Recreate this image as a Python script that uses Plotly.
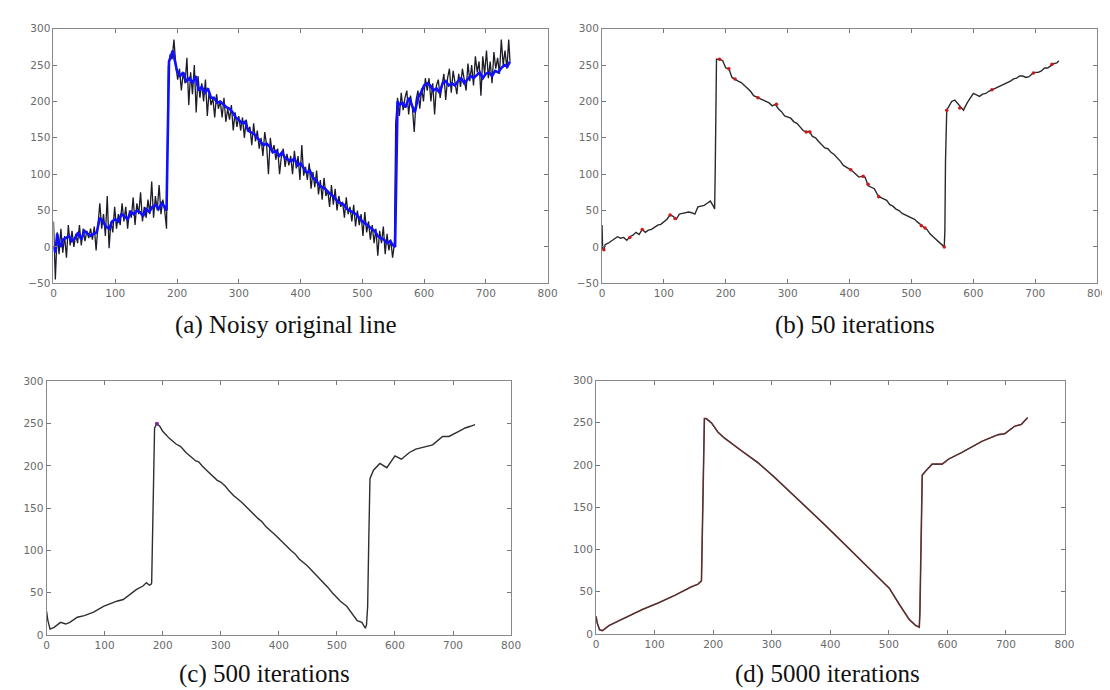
import plotly.graph_objects as go

# ---------------- data ----------------
# (a) noisy original line (black) and overlaid blue line
noisy_x = (list(range(0, 184, 3)) + list(range(186, 553, 3)) + [554]
           + list(range(557, 738, 3)) + [739])
noisy_y = [35, -45, 20, -10, 25, -8, 15, -15, 30, 2, 22, 0, 18, 5, 30, 2, 25, 8, 22, 12,
           25, 10, 28, -5, 30, 60, 25, 45, 15, 70, -2, 35, 20, 55, 25, 45, 30, 60, 35, 55,
           25, 50, 40, 68, 30, 60, 45, 75, 35, 55, 40, 65, 45, 90, 40, 70, 50, 85, 45, 65,
           50, 25,
           248, 265, 258, 285, 250, 230, 245, 215, 240, 225,
           260, 195, 240, 210, 250, 185, 235, 205, 225, 200,
           230, 180, 215, 195, 205, 178, 210, 190, 200, 178,
           205, 172, 190, 175, 195, 160, 185, 165, 180, 160,
           178, 150, 175, 160, 165, 140, 170, 145, 160, 135,
           150, 125, 158, 140, 100, 150, 130, 140, 120, 135,
           100, 125, 135, 110, 128, 112, 125, 100, 132, 108,
           125, 92, 140, 98, 110, 92, 115, 80, 103, 82,
           105, 72, 92, 65, 95, 70, 78, 55, 85, 58,
           80, 50, 70, 55, 62, 40, 68, 45, 55, 35,
           58, 28, 50, 30, 45, 15, 48, 20, 35, 10,
           30, 5, 25, -12, 22, 5, 28, -10, 18, -5,
           10, -15, 5,
           170,
           205, 180, 212, 188, 205, 215, 182, 208, 192, 158, 202, 215, 190, 218, 200,
           232, 215, 232, 200, 225, 182, 222, 230, 205, 222,
           238, 202, 232, 245, 212, 242, 225, 210, 238, 220,
           245, 232, 215, 252, 228, 250, 222, 262, 240, 255,
           208, 262, 238, 270, 232, 255, 225, 268, 245, 260,
           238, 285, 250, 270, 245, 285,
           255]

blue_x = ([0, 3, 6, 9, 12, 15] + list(range(20, 181, 5)) + [183]
          + [187, 190, 193, 196] + list(range(200, 551, 5)) + [553]
          + [557] + list(range(560, 736, 5)) + [739])
blue_y = [0, -8, 18, 5, 0, 10, 12, 15, 8, 12, 20, 10, 22, 18, 15, 18,
          20, 40, 35, 28, 25, 35, 38, 35, 45, 42, 38, 48, 45, 50, 48, 42, 52, 48, 55, 58,
          52, 60, 55, 50,
          255, 262, 270, 258,
          242, 235, 240, 228, 232, 225, 235, 215, 220, 212,
          218, 205, 205, 198, 200, 196, 192, 190, 185, 178,
          175, 170, 172, 160, 158, 155, 150, 145, 140, 142,
          138, 130, 132, 125, 130, 122, 120, 118, 122, 112,
          115, 108, 102, 105, 95, 92, 85, 82, 80, 75,
          72, 68, 62, 60, 58, 52, 50, 48, 45, 40,
          35, 32, 28, 25, 22, 15, 12, 10, 5, 8,
          2, 0,
          200, 195, 198, 192, 205, 195, 185, 205, 212, 222,
          225, 222, 215, 218, 212, 225, 228, 222, 225, 222,
          228, 232, 225, 230, 235, 232, 236, 240, 232, 238,
          240, 235, 242, 240, 246, 250, 248, 255]

# (b) 50 iterations
b_x = [0, 1, 3, 5, 10, 15, 20, 25, 30, 35, 40, 45, 50, 55, 60, 65, 70, 75, 80, 85,
       90, 95, 100, 105, 110, 115, 120, 125, 130, 135, 140, 145, 150, 155, 160, 165, 170,
       175, 180, 182, 183, 184, 185, 190, 195, 200, 205, 210, 215, 220, 225, 230, 235,
       240, 245, 250, 255, 260, 265, 270, 275, 280, 285, 290, 295, 300, 305, 310, 315,
       320, 325, 330, 335, 340, 345, 350, 355, 360, 365, 370, 375, 380, 385, 390, 395,
       400, 405, 410, 415, 420, 425, 430, 435, 440, 445, 450, 455, 460, 465, 470, 475,
       480, 485, 490, 495, 500, 505, 510, 515, 520, 525, 530, 535, 540, 545, 550, 553,
       554, 555, 557, 560, 565, 570, 575, 580, 584, 590, 595, 600, 605, 610, 615, 620,
       625, 630, 635, 640, 645, 650, 655, 660, 665, 670, 675, 680, 685, 690, 695, 700,
       705, 710, 715, 720, 725, 730, 735, 738]
b_y = [30, -2, -4, 3, 5, 8, 10, 14, 12, 13, 9, 14, 16, 20, 17, 24, 20, 23, 24, 27,
       30, 31, 35, 38, 44, 42, 38, 45, 46, 47, 48, 47, 45, 55, 56, 57, 60,
       63, 56, 52, 108, 212, 258, 258, 256, 246, 245, 233, 230, 228, 226, 222, 218,
       214, 208, 206, 204, 202, 200, 198, 194, 196, 190, 186, 180, 178, 177, 172, 170,
       165, 160, 158, 159, 152, 150, 145, 140, 136, 135, 130, 127, 123, 118, 112, 110,
       107, 104, 100, 96, 97, 96, 84, 82, 80, 72, 68, 66, 64, 58, 56, 52,
       50, 46, 44, 43, 40, 38, 34, 30, 27, 24, 18, 14, 10, 6, 3, 0,
       22, 117, 188, 193, 200, 202, 197, 192, 188, 198, 205, 211, 209, 207, 210, 211,
       214, 216, 217, 220, 222, 224, 226, 228, 231, 232, 235, 235, 233, 234, 238, 240,
       240, 242, 246, 246, 249, 252, 253, 256]
b_red_x = [3, 45, 65, 110, 118, 190, 205, 215, 252, 282, 330, 336, 402, 422, 430, 447,
           516, 522, 553, 557, 578, 630, 697, 727]
b_red_y = [-4, 13, 24, 44, 39, 258, 245, 231, 205, 196, 158, 158, 106, 97, 86, 69,
           29, 26, 0, 188, 191, 216, 239, 251]

# (c) 500 iterations
c_x = [0, 2, 6, 13, 24, 33, 40, 53, 65, 81, 98, 109, 121, 132, 140, 149, 155, 166, 172,
       177, 180, 181, 182, 184, 186, 190, 195, 200, 211, 223, 231, 240, 250, 257, 262,
       268, 280, 294, 300, 308, 315, 322, 336, 343, 350, 364, 371, 378, 393, 400, 407,
       421, 428, 435, 449, 456, 463, 478, 485, 492, 506, 517, 527, 535, 543, 549, 551,
       553, 555, 557, 563, 574, 586, 600, 611, 625, 636, 648, 665, 682, 693, 710, 721,
       730, 738]
c_y = [28, 18, 7, 9, 15, 13, 15, 21, 23, 27, 34, 37, 40, 42, 46, 50, 54, 58, 62,
       59, 60, 62, 108, 200, 245, 250, 247, 241, 233, 226, 223, 216, 210, 206, 205,
       200, 192, 183, 181, 176, 170, 165, 157, 152, 147, 138, 134, 128, 119, 114, 109,
       100, 96, 90, 82, 77, 71, 61, 56, 50, 40, 34, 25, 17, 15, 8, 12,
       34, 115, 185, 195, 203, 198, 212, 208, 216, 220, 222, 225, 235, 235, 241, 245,
       247, 249]

# (d) 5000 iterations
d_x = [0, 2, 6, 11, 22, 51, 79, 107, 135, 163, 174, 180, 181, 183, 185, 188, 197, 208,
       219, 248, 276, 304, 332, 360, 388, 416, 444, 473, 501, 518, 535, 546, 552, 553,
       555, 557, 563, 574, 591, 602, 625, 659, 687, 698, 715, 726, 737]
d_y = [21, 13, 5, 4, 10, 20, 29, 37, 46, 56, 59, 63, 110, 215, 255, 255, 250, 239,
       232, 217, 203, 186, 168, 150, 131, 112, 93, 74, 54, 35, 17, 10, 8, 25,
       114, 188, 193, 201, 201, 207, 215, 228, 236, 237, 246, 248, 256]

captions = ["(a) Noisy original line", "(b) 50 iterations",
            "(c) 500 iterations", "(d) 5000 iterations"]
x_ticks = [0, 100, 200, 300, 400, 500, 600, 700, 800]
y_ticks_top = [-50, 0, 50, 100, 150, 200, 250, 300]
y_ticks_bottom = [0, 50, 100, 150, 200, 250, 300]

# ---------------- figure ----------------
W, H = 1110, 690
fig = go.Figure()

def dom(p0, p1, total, flip=False):
    if flip:
        return [1 - p1 / total, 1 - p0 / total]
    return [p0 / total, p1 / total]

panels = {
    "1": dict(x=dom(43, 543, W), y=dom(15, 274, H, True), yr=[-50, 300], yt=y_ticks_top),
    "2": dict(x=dom(598, 1099, W), y=dom(15, 274, H, True), yr=[-50, 300], yt=y_ticks_top),
    "3": dict(x=dom(36, 506, W), y=dom(374, 632, H, True), yr=[0, 300], yt=y_ticks_bottom),
    "4": dict(x=dom(592, 1066, W), y=dom(373, 631, H, True), yr=[0, 300], yt=y_ticks_bottom),
}

tickfont = dict(family="DejaVu Sans, Verdana, sans-serif", size=10.5, color="#6a6a6a")
layout_axes = {}
for k, p in panels.items():
    sfx = "" if k == "1" else k
    layout_axes["xaxis" + sfx] = dict(
        domain=p["x"], range=[0, 800], anchor="y" + sfx, tickvals=x_ticks,
        ticks="inside", ticklen=4, tickcolor="#777777", showline=True, linecolor="#888888",
        linewidth=1, mirror="ticks", showgrid=False, zeroline=False, tickfont=tickfont,
        fixedrange=True)
    layout_axes["yaxis" + sfx] = dict(
        domain=p["y"], range=p["yr"], anchor="x" + sfx, tickvals=p["yt"],
        ticks="inside", ticklen=4, tickcolor="#777777", showline=True, linecolor="#888888",
        linewidth=1, mirror="ticks", showgrid=False, zeroline=False, tickfont=tickfont,
        fixedrange=True)

# (a)
fig.add_trace(go.Scatter(x=noisy_x, y=noisy_y, mode="lines",
                         line=dict(color="#1c1c28", width=1.3), xaxis="x", yaxis="y"))
fig.add_trace(go.Scatter(x=blue_x, y=blue_y, mode="lines",
                         line=dict(color="#1010ff", width=2.6), xaxis="x", yaxis="y"))
# (b)
fig.add_trace(go.Scatter(x=b_x, y=b_y, mode="lines",
                         line=dict(color="#2a2a2a", width=1.4), xaxis="x2", yaxis="y2"))
fig.add_trace(go.Scatter(x=b_red_x, y=b_red_y, mode="markers",
                         marker=dict(color="#d01818", size=3.5), xaxis="x2", yaxis="y2"))
# (c)
fig.add_trace(go.Scatter(x=c_x, y=c_y, mode="lines",
                         line=dict(color="#2e2e2e", width=1.4), xaxis="x3", yaxis="y3"))
fig.add_trace(go.Scatter(x=[c_x[25]], y=[c_y[25]], mode="markers",
                         marker=dict(color="#7a2a9a", size=4), xaxis="x3", yaxis="y3"))
# (d)
fig.add_trace(go.Scatter(x=d_x, y=d_y, mode="lines",
                         line=dict(color="#9a3a3a", width=1.6), xaxis="x4", yaxis="y4"))
fig.add_trace(go.Scatter(x=d_x, y=d_y, mode="lines",
                         line=dict(color="#403636", width=1.1), xaxis="x4", yaxis="y4"))

cap_pos = [(278, 316), (854, 316), (257, 672), (826, 672)]
annotations = []
for text, (cx, cy) in zip(captions, cap_pos):
    annotations.append(dict(
        text=text, x=cx / W, y=1 - cy / H, xref="paper", yref="paper",
        xanchor="center", yanchor="middle", showarrow=False, borderpad=0,
        font=dict(family="Liberation Serif, Times New Roman, serif", size=25,
                  color="#111111")))

fig.update_layout(
    width=W, height=H, margin=dict(l=0, r=0, t=0, b=0),
    paper_bgcolor="white", plot_bgcolor="white", showlegend=False,
    annotations=annotations, **layout_axes)

fig.write_html("out.html")
